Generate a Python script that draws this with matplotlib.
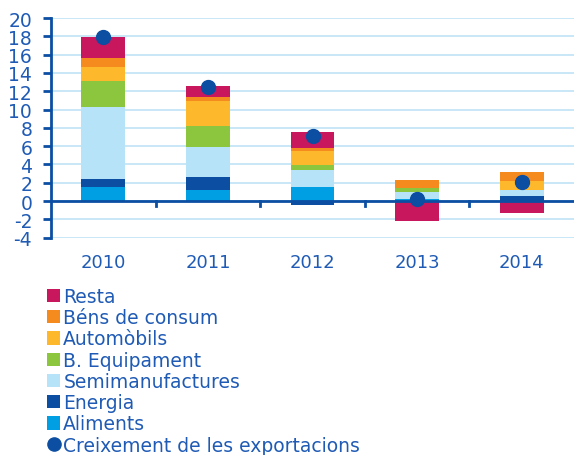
import matplotlib
matplotlib.use("Agg")
import matplotlib.pyplot as plt
import numpy as np
from matplotlib.patches import Patch
from matplotlib.lines import Line2D

years = ["2010", "2011", "2012", "2013", "2014"]
aliments = [1.5, 1.25, 1.55, 0.25, 0.0]
energia = [0.9, 1.4, -0.4, 0.0, 0.55]
semimanufactures = [7.9, 3.3, 1.8, 0.7, 0.65]
b_equipament = [2.8, 2.2, 0.55, 0.5, 0.0]
automobils = [1.55, 2.8, 1.55, 0.0, 1.0]
bens_consum = [0.95, 0.4, 0.35, 0.9, 1.0]
resta = [2.35, 1.25, 1.7, -2.2, -1.3]
creixement = [17.9, 12.45, 7.1, 0.2, 2.1]

series = [
    ("Aliments", aliments, "#009FE3"),
    ("Energia", energia, "#0B4EA2"),
    ("Semimanufactures", semimanufactures, "#B6E3F7"),
    ("B. Equipament", b_equipament, "#8CC63F"),
    ("Automòbils", automobils, "#FDB92B"),
    ("Béns de consum", bens_consum, "#F58A1F"),
    ("Resta", resta, "#C8175D"),
]

text_color = "#1F5BB5"
dark_blue = "#0B4EA2"
grid_color = "#C4E5F6"

plt.rcParams['font.family'] = ['DejaVu Sans']
plt.rcParams['axes.unicode_minus'] = False

fig = plt.figure(figsize=(5.74, 4.56), dpi=100)
ax = fig.add_axes([51/574, 1 - 238.7/456, (574 - 51)/574, (238.7 - 19)/456])

x = np.arange(len(years))
pos_base = np.zeros(len(years))
neg_base = np.zeros(len(years))
for name, vals, col in series:
    v = np.array(vals, dtype=float)
    base = np.where(v >= 0, pos_base, neg_base)
    ax.bar(x, v, bottom=base, width=0.42, color=col, zorder=3, linewidth=0)
    pos_base = pos_base + np.where(v >= 0, v, 0)
    neg_base = neg_base + np.where(v < 0, v, 0)

ax.plot(x, creixement, "o", color=dark_blue, markersize=10, zorder=5, linestyle="none")

ax.set_xlim(-0.5, len(years) - 0.5)
ax.set_ylim(-4, 20)
ax.set_yticks(np.arange(-4, 21, 2))
for yv in np.arange(-4, 21, 2):
    ax.axhline(yv, color=grid_color, linewidth=1.3, zorder=1)
ax.axhline(0, color=dark_blue, linewidth=2, zorder=4)

for s in ["top", "right", "bottom"]:
    ax.spines[s].set_visible(False)
ax.spines["left"].set_color(dark_blue)
ax.spines["left"].set_linewidth(2)

ax.tick_params(axis="y", colors=dark_blue, labelcolor=text_color, labelsize=13.5,
               length=6, width=2, direction="out", pad=7.5)
ax.set_xticks([])
# category boundary ticks on zero line
for b in np.arange(0.5, len(years) - 1, 1.0):
    ax.plot([b, b], [0, -0.55], color=dark_blue, linewidth=2, zorder=4, clip_on=False)
for xi, lab in zip(x, years):
    ax.text(xi, -6.7, lab, ha="center", va="center", fontsize=13, color=text_color)

handles = [Patch(facecolor=c, edgecolor="none", label=n) for n, v, c in reversed(series)]
handles.append(Line2D([], [], marker="o", color=dark_blue, linestyle="none", markersize=9.5,
                      label="Creixement de les exportacions"))
leg = fig.legend(handles=handles, loc="upper left", bbox_to_anchor=(47/574, 1 - 288/456),
                 frameon=False, fontsize=13.5, handlelength=0.72, handleheight=0.72,
                 handletextpad=0.15, labelspacing=0.12, borderpad=0, borderaxespad=0)
for t in leg.get_texts():
    t.set_color(text_color)

fig.savefig("out.png", dpi=100)
